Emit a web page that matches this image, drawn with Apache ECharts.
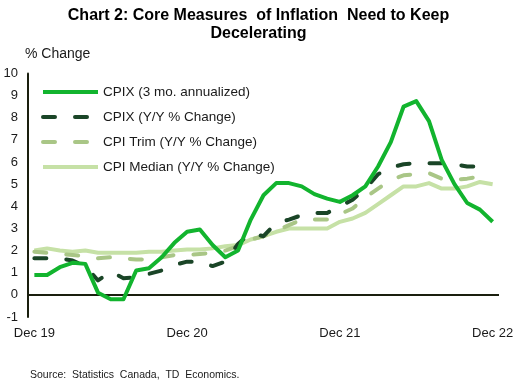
<!DOCTYPE html>
<html>
<head>
<meta charset="utf-8">
<script src="https://cdn.jsdelivr.net/npm/echarts@6/dist/echarts.min.js"></script>
<style>
html,body{margin:0;padding:0;background:#fff;}
#c{width:517px;height:386px;}
</style>
</head>
<body>
<div id="c"></div>
<script>
var categories = ['Dec 19','Jan 20','Feb 20','Mar 20','Apr 20','May 20','Jun 20','Jul 20','Aug 20','Sep 20','Oct 20','Nov 20',
  'Dec 20','Jan 21','Feb 21','Mar 21','Apr 21','May 21','Jun 21','Jul 21','Aug 21','Sep 21','Oct 21','Nov 21',
  'Dec 21','Jan 22','Feb 22','Mar 22','Apr 22','May 22','Jun 22','Jul 22','Aug 22','Sep 22','Oct 22','Nov 22','Dec 22'];

var cpix3m = [0.9,0.9,1.25,1.45,1.4,0.1,-0.2,-0.2,1.1,1.2,1.7,2.35,
  2.85,2.95,2.25,1.7,2.0,3.4,4.5,5.05,5.05,4.9,4.55,4.35,
  4.2,4.5,4.9,5.8,6.9,8.5,8.75,7.85,6.1,5.0,4.15,3.85,3.3];

var cpixYY = [1.65,1.65,1.65,1.55,1.3,0.65,1.05,0.75,0.8,0.95,1.1,1.35,
  1.5,1.5,1.3,1.5,2.3,2.8,2.65,3.25,3.4,3.6,3.7,3.7,
  4.0,4.3,4.8,5.45,5.75,5.9,5.95,5.95,5.95,5.9,5.8,5.8,5.8];

var cpiTrim = [1.95,1.9,1.85,1.8,1.75,1.65,1.7,1.65,1.6,1.6,1.7,1.8,
  1.8,1.85,1.9,2.0,2.2,2.5,2.65,2.9,3.15,3.4,3.4,3.4,
  3.65,3.9,4.4,4.8,5.2,5.4,5.45,5.5,5.25,5.2,5.25,5.35,5.35];

var cpiMedian = [2.0,2.1,2.0,1.95,2.0,1.9,1.9,1.9,1.9,1.95,1.95,2.0,
  2.05,2.05,2.1,2.2,2.25,2.5,2.65,2.85,3.0,3.0,3.0,3.0,
  3.3,3.45,3.7,4.1,4.5,4.9,4.9,5.05,4.8,4.8,4.9,5.1,5.0];

var yTicks = [-1,0,1,2,3,4,5,6,7,8,9,10];

var seriesNames = ['CPIX (3 mo. annualized)','CPIX (Y/Y % Change)','CPI Trim (Y/Y % Change)','CPI Median (Y/Y % Change)'];

var FONT = 'Liberation Sans, Arial, sans-serif';
var chart = echarts.init(document.getElementById('c'), null, {renderer:'canvas'});

function ln(name, data, color, dashed, z) {
  return {
    name: name, type: 'line', data: data, symbol: 'none', showSymbol: false, smooth: false, z: z,
    lineStyle: {color: color, width: 4, type: dashed ? [12, 20] : 'solid', cap: dashed ? 'round' : 'butt', join: 'round'},
    itemStyle: {color: color},
    emphasis: {disabled: true}, animation: false
  };
}

var series = [
  ln(seriesNames[3], cpiMedian, '#C6E1A6', false, 2),
  ln(seriesNames[2], cpiTrim, '#A9C686', true, 3),
  ln(seriesNames[1], cpixYY, '#1A4527', true, 4),
  ln(seriesNames[0], cpix3m, '#12B42E', false, 5)
];
series[0].markLine = {
  silent: true, symbol: ['none','none'], label: {show:false},
  lineStyle: {color: '#1a1f0e', width: 2, type: 'solid'},
  data: [{yAxis: 0}], animation: false
};

chart.setOption({
  animation: false,
  backgroundColor: '#fff',
  title: [{
    text: 'Chart 2: Core Measures  of Inflation  Need to Keep\nDecelerating',
    left: 'center', top: 2,
    textStyle: {fontFamily: FONT, fontSize: 16, fontWeight: 'bold', color: '#000', lineHeight: 18}
  }, {
    text: '% Change', left: 20, top: 42,
    textStyle: {fontFamily: FONT, fontSize: 14, fontWeight: 'normal', color: '#1a1a1a'}
  }, {
    text: 'Source:  Statistics  Canada,  TD  Economics.', left: 25, top: 365,
    textStyle: {fontFamily: FONT, fontSize: 10.5, fontWeight: 'normal', color: '#1a1a1a'}
  }],
  legend: {
    data: seriesNames,
    orient: 'vertical', left: 41, top: 85, padding: 0,
    itemWidth: 55, itemHeight: 14, itemGap: 11,
    itemStyle: {opacity: 0},
    lineStyle: {width: 4},
    textStyle: {fontFamily: FONT, fontSize: 13.5, color: '#1a1a1a'},
    selectedMode: false
  },
  grid: {left: 28, right: 18, top: 73.5, bottom: 69, containLabel: false},
  xAxis: {
    type: 'category', data: categories, boundaryGap: true,
    axisLine: {show: false}, axisTick: {show: false},
    axisLabel: {interval: function(i){return i % 12 === 0;}, fontFamily: FONT, fontSize: 13, color: '#1a1a1a', margin: 10}
  },
  yAxis: {
    type: 'value', min: yTicks[0], max: yTicks[yTicks.length-1], interval: 1,
    axisLine: {show: true, lineStyle: {color: '#1a1f0e', width: 2}},
    axisTick: {show: false}, splitLine: {show: false},
    axisLabel: {fontFamily: FONT, fontSize: 13, color: '#1a1a1a', margin: 10}
  },
  series: series
});
</script>
</body>
</html>
